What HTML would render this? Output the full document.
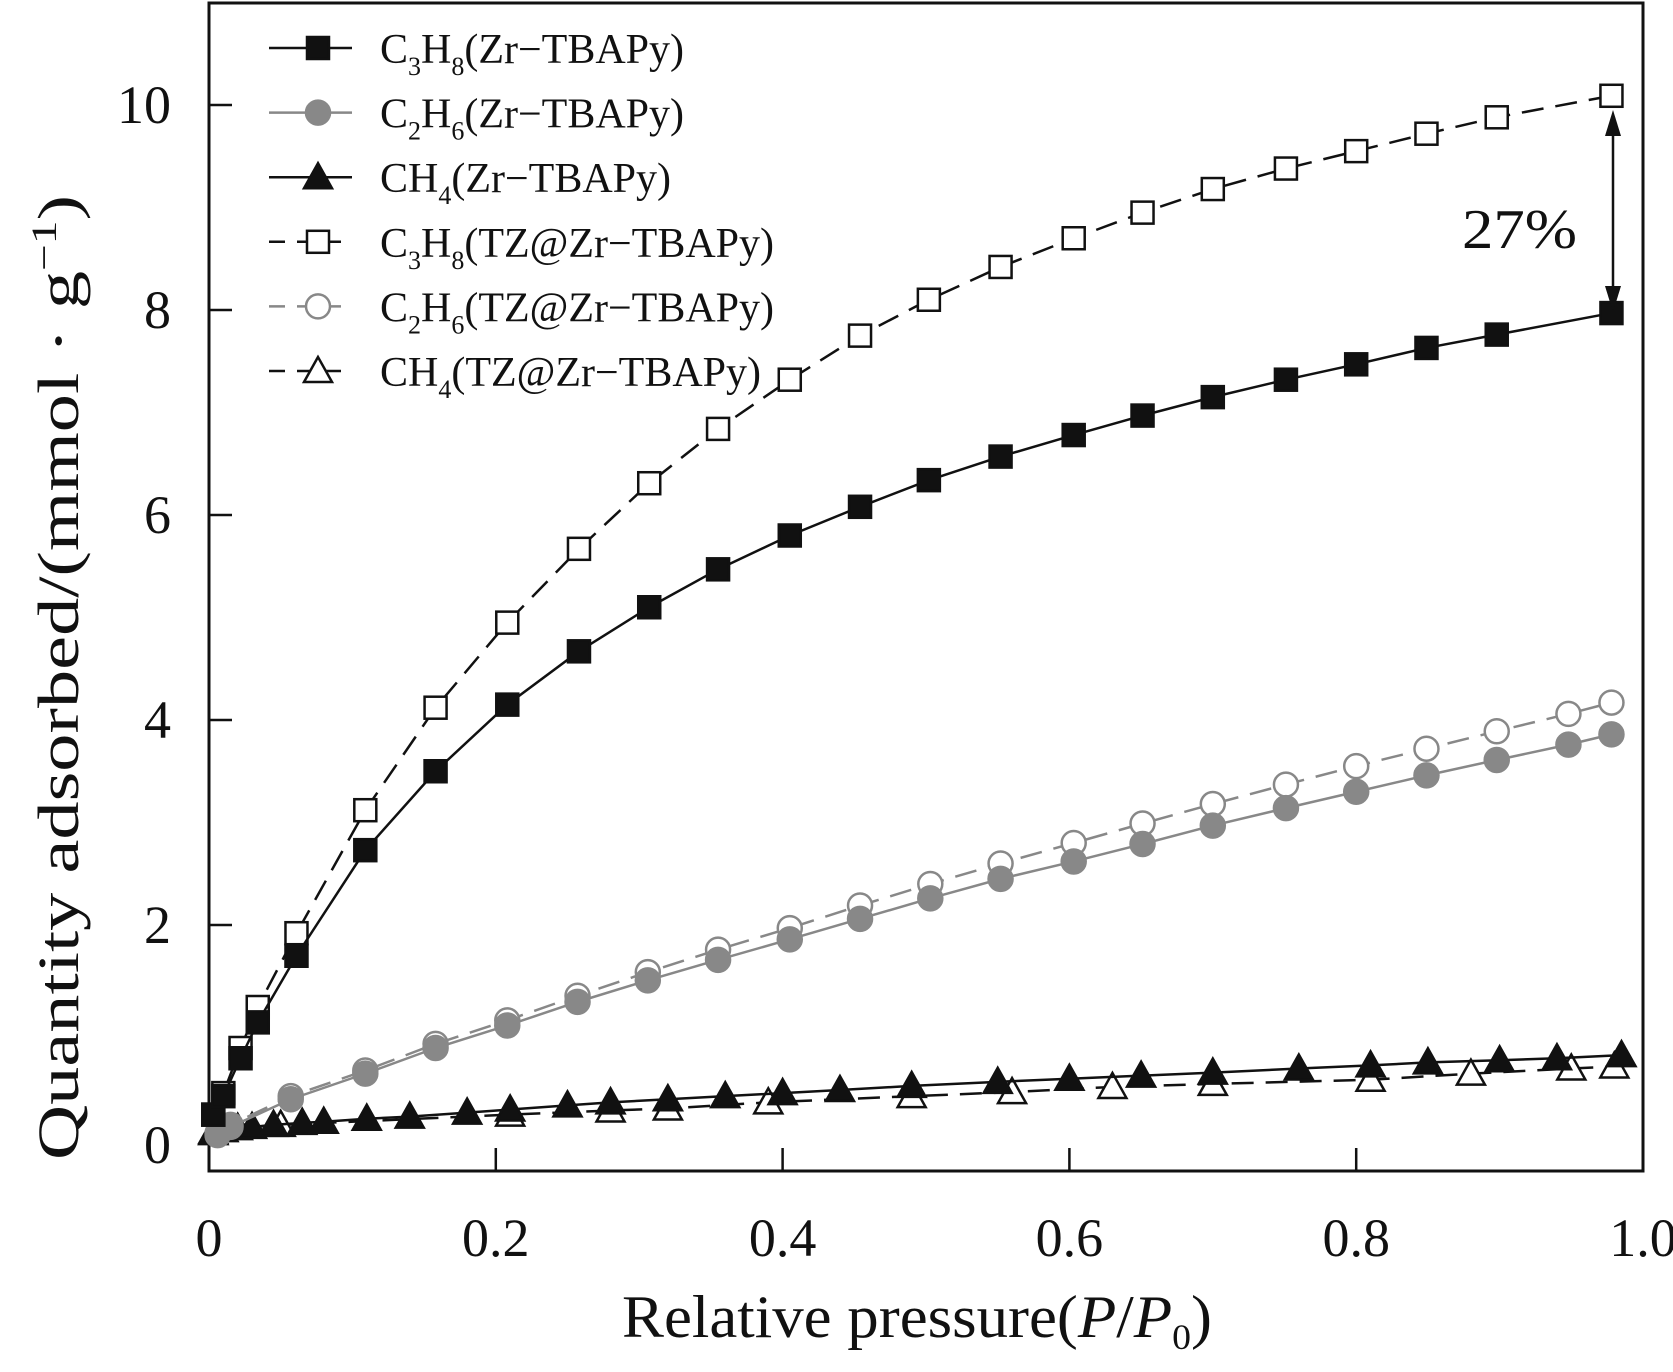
<!DOCTYPE html>
<html><head><meta charset="utf-8"><style>
html,body{margin:0;padding:0;background:#fff}
svg{display:block}
text{font-family:"Liberation Serif",serif;fill:#111}
</style></head><body>
<svg id="chart" width="1673" height="1372" viewBox="0 0 1673 1372" xmlns="http://www.w3.org/2000/svg">
<g id="plot"></g>
</svg>
<script>
const xTicks=[0,0.2,0.4,0.6,0.8,1.0];
const xTickLabels=["0","0.2","0.4","0.6","0.8","1.0"];
const yTicks=[0,2,4,6,8,10];
const yTickLabels=["0","2","4","6","8","10"];
const c3x=[0.003,0.01,0.022,0.034,0.061,0.109,0.158,0.208,0.258,0.307,0.355,0.405,0.454,0.502,0.552,0.603,0.651,0.700,0.751,0.800,0.849,0.898,0.978];
const c3Zr=[0.15,0.33,0.7,1.05,1.7,2.73,3.5,4.15,4.67,5.1,5.47,5.8,6.08,6.34,6.57,6.78,6.97,7.15,7.32,7.47,7.63,7.76,7.97];
const c3TZ=[0.15,0.36,0.8,1.2,1.92,3.12,4.12,4.95,5.67,6.31,6.84,7.32,7.75,8.10,8.42,8.70,8.95,9.18,9.38,9.55,9.72,9.88,10.09];
const c2x=[0.006,0.015,0.057,0.109,0.158,0.208,0.257,0.306,0.355,0.405,0.454,0.503,0.552,0.603,0.651,0.700,0.751,0.800,0.849,0.898,0.948,0.978];
const c2Zr=[-0.05,0.03,0.3,0.55,0.8,1.02,1.25,1.46,1.66,1.86,2.06,2.26,2.45,2.62,2.79,2.97,3.14,3.30,3.46,3.61,3.76,3.86];
const c2TZ=[-0.03,0.05,0.33,0.58,0.84,1.07,1.31,1.54,1.76,1.97,2.19,2.40,2.60,2.80,2.99,3.18,3.37,3.55,3.72,3.89,4.06,4.17];
const c1x=[0.003,0.01,0.02,0.03,0.045,0.065,0.08,0.11,0.14,0.18,0.21,0.25,0.28,0.32,0.36,0.40,0.44,0.49,0.55,0.60,0.65,0.70,0.76,0.81,0.85,0.90,0.94,0.985];
const c1Zr=[-0.02,0.0,0.02,0.03,0.05,0.07,0.08,0.11,0.13,0.17,0.2,0.24,0.27,0.3,0.33,0.36,0.39,0.43,0.47,0.5,0.53,0.56,0.6,0.63,0.66,0.68,0.7,0.73];
const c1tx=[0.003,0.01,0.02,0.05,0.21,0.28,0.32,0.39,0.49,0.56,0.63,0.70,0.81,0.88,0.95,0.98];
const c1TZ=[-0.03,0.0,0.02,0.05,0.15,0.19,0.21,0.27,0.33,0.37,0.42,0.45,0.49,0.55,0.6,0.62];

const NS="http://www.w3.org/2000/svg";
const g=document.getElementById('plot');
const X0=209,X1=1643,Y0=1130,YU=102.5,TOP=3,BOT=1171;
const sx=v=>X0+v*(X1-X0);
const sy=v=>Y0-v*YU;
function mk(tag,attrs,parent){const e=document.createElementNS(NS,tag);for(const k in attrs)e.setAttribute(k,attrs[k]);(parent||g).appendChild(e);return e;}

const fr=mk('rect',{x:X0,y:TOP,width:X1-X0,height:BOT-TOP,fill:'none',stroke:'#111','stroke-width':3});


xTicks.forEach((v,i)=>{
  if(v>0&&v<1){const t=mk('line',{x1:sx(v),x2:sx(v),y1:BOT,y2:BOT-23,stroke:'#111','stroke-width':2.5});
  
  }
  const l=mk('text',{x:sx(v),y:1256,'font-size':54,'text-anchor':'middle'});
  
  
  l.textContent=xTickLabels[i];
});
yTicks.forEach((v,i)=>{
  if(v>0){const t=mk('line',{x1:X0,x2:X0+23,y1:sy(v),y2:sy(v),stroke:'#111','stroke-width':2.5});
  
  }
  const l=mk('text',{x:171,y:sy(v)+(v===0?33:18),'font-size':54,'text-anchor':'end'});
  
  
  l.textContent=yTickLabels[i];
});

function marker(type,x,y,fill,stroke){
  let e;
  if(type==='sq') e=mk('rect',{x:x-11,y:y-11,width:22,height:22,fill:fill,stroke:stroke,'stroke-width':2.5});
  else if(type==='ci') e=mk('circle',{cx:x,cy:y,r:12,fill:fill,stroke:stroke,'stroke-width':2.5});
  else e=mk('polygon',{points:`${x},${y-14} ${x-14},${y+11} ${x+14},${y+11}`,fill:fill,stroke:stroke,'stroke-width':2.5});
  return e;
}
function series(name,xs,ys,type,fill,stroke,dash){
  const p=mk('polyline',{points:xs.map((v,i)=>sx(v)+','+sy(ys[i])).join(' '),fill:'none',stroke:stroke,'stroke-width':2.5,'stroke-dasharray':dash||'none'});
  
  
  xs.forEach((v,i)=>{const m=marker(type,sx(v),sy(ys[i]),fill,stroke);
    
    });
}
series('c1-tz',c1tx,c1TZ,'tr','#fff','#111','22,12');
series('c1-zr',c1x,c1Zr,'tr','#111','#111');
series('c2-tz',c2x,c2TZ,'ci','#fff','#888','22,12');
series('c2-zr',c2x,c2Zr,'ci','#888','#888');
series('c3-tz',c3x,c3TZ,'sq','#fff','#111','22,12');
series('c3-zr',c3x,c3Zr,'sq','#111','#111');

const leg=[['c3-zr','sq','#111','#111',null,'C','3','H','8','(Zr−TBAPy)'],
['c2-zr','ci','#888','#888',null,'C','2','H','6','(Zr−TBAPy)'],
['c1-zr','tr','#111','#111',null,'CH','','','4','(Zr−TBAPy)'],
['c3-tz','sq','#fff','#111','16,12','C','3','H','8','(TZ@Zr−TBAPy)'],
['c2-tz','ci','#fff','#888','16,12','C','2','H','6','(TZ@Zr−TBAPy)'],
['c1-tz','tr','#fff','#111','16,12','CH','','','4','(TZ@Zr−TBAPy)']];
leg.forEach((r,i)=>{
  const y=48+i*64.6;
  const l=mk('line',{x1:269,x2:352,y1:y,y2:y,stroke:r[3],'stroke-width':2.5,'stroke-dasharray':r[4]||'none'});
  
  
  const m=marker(r[1],318,y,r[2],r[3]);
  
  
  const t=mk('text',{x:380,y:y+15,'font-size':42});
  
  
  let s=r[5];
  if(r[6]) s+=`<tspan font-size="26" dy="12">${r[6]}</tspan><tspan dy="-12">${r[7]}</tspan>`;
  s+=`<tspan font-size="26" dy="12">${r[8]}</tspan><tspan dy="-12">${r[9]}</tspan>`;
  t.innerHTML=s;
});

const ar=mk('line',{x1:1613,x2:1613,y1:120,y2:303,stroke:'#111','stroke-width':2.5});


const ah1=mk('polygon',{points:'1613,110 1605,136 1621,136',fill:'#111'});


const ah2=mk('polygon',{points:'1613,312 1605,286 1621,286',fill:'#111'});


const an=mk('text',{x:1462,y:248,'font-size':56,textLength:115,lengthAdjust:'spacingAndGlyphs'});


an.textContent='27%';

const xt=mk('text',{x:622,y:1337,'font-size':60,textLength:590,lengthAdjust:'spacingAndGlyphs'});


xt.innerHTML='Relative pressure(<tspan font-style="italic">P</tspan>/<tspan font-style="italic">P</tspan><tspan font-size="36" dy="12">0</tspan><tspan dy="-12">)</tspan>';
const yt=mk('text',{x:0,y:0,'font-size':58,transform:'translate(78,1160) rotate(-90)',textLength:965,lengthAdjust:'spacingAndGlyphs'});


yt.innerHTML='Quantity adsorbed/(mmol · g<tspan font-size="36" dy="-22">−1</tspan><tspan dy="22">)</tspan>';
</script>
</body></html>
